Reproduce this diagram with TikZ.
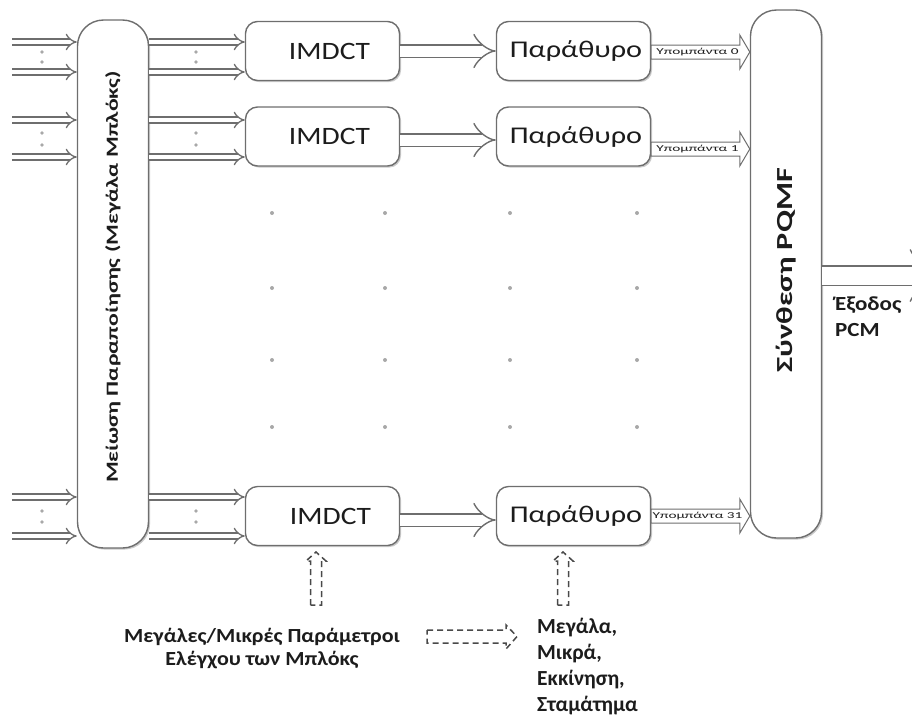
\documentclass[tikz,border=0pt]{standalone}
\usepackage{fontspec}
\setmainfont{Carlito}
\usepackage{graphicx}
\usetikzlibrary{arrows.meta,shadows,calc}
\definecolor{edge}{HTML}{6E6E6E}
\definecolor{ink}{HTML}{1C1C1C}
\definecolor{dotc}{HTML}{A8A8A8}
\newcommand{\wide}[2]{\scalebox{#1}[1]{#2}}
\begin{document}
\begin{tikzpicture}[x=1pt,y=-1pt,
  box/.style={draw=edge, line width=1.4pt, fill=white, rounded corners=12pt,
    drop shadow={shadow xshift=1.6pt, shadow yshift=-1.6pt, opacity=0.35, fill=black!60},
    inner sep=0pt, text=ink},
  bigbox/.style={box, rounded corners=26pt, minimum width=71pt, minimum height=528pt},
  stagebox/.style={box, minimum width=154pt, minimum height=59pt, font=\fontsize{25}{27}\selectfont},
  inarrow/.style={draw=edge, line width=1.3pt, double=white, double distance=4.5pt, -{Implies}},
  midarrow/.style={draw=edge, line width=1.4pt, double=white, double distance=11pt, -{Implies}},
  outarrow/.style={draw=edge, line width=1.4pt, double=white, double distance=18pt, -{Implies}},
  subarrow/.style={draw=edge, line width=1pt, fill=white, line join=miter},
  sublabel/.style={text=ink, inner sep=0pt, font=\fontsize{9}{10}\selectfont},
  ctrl/.style={draw=ink!80, line width=1.5pt, dash pattern=on 6pt off 4pt},
  sidetext/.style={text=ink, inner sep=0pt},
  gdot/.style={fill=dotc, draw=none}
]
\useasboundingbox (0,0) rectangle (912,716);

% main blocks
\node[bigbox] (alias) at (113,284) {};
\node[text=ink, rotate=90, font=\bfseries\fontsize{17}{19}\selectfont] (aliastxt) at (113,277)
  {\wide{1.4}{Μείωση Παραποίησης (Μεγάλα Μπλόκς)}};
\node[bigbox] (pqmf) at (786,274) {};
\node[text=ink, rotate=90, font=\bfseries\fontsize{23}{25}\selectfont] (pqmftxt) at (786,270)
  {\wide{1.4}{Σύνθεση PQMF}};

\node[stagebox] (im0)  at (322.5,51)    {\hspace*{14pt}\wide{1.18}{IMDCT}};
\node[stagebox] (im1)  at (322.5,136.5) {\hspace*{14pt}\wide{1.18}{IMDCT}};
\node[stagebox] (im31) at (322.5,516)   {\hspace*{16pt}\wide{1.18}{IMDCT}};
\node[stagebox, font=\fontsize{24}{26}\selectfont] (w0)  at (573.5,51)    {\hspace*{5pt}\wide{1.26}{Παράθυρο}};
\node[stagebox, font=\fontsize{24}{26}\selectfont] (w1)  at (573.5,136.5) {\hspace*{5pt}\wide{1.26}{Παράθυρο}};
\node[stagebox, font=\fontsize{24}{26}\selectfont] (w31) at (573.5,516)   {\hspace*{5pt}\wide{1.26}{Παράθυρο}};

% coefficient lines into and out of the alias reduction
\foreach \y [count=\i] in {42,72,120,157,497,536} {
  \coordinate (src\i) at (12,\y);
  \draw[inarrow] (src\i) -- (src\i -| alias.west);
  \draw[inarrow] (src\i -| alias.east) -- (src\i -| im0.west);
}
\foreach \y in {52,62,133,145,511,522} {
  \fill[gdot] (42,\y) circle (1.8pt);
  \fill[gdot] (196,\y) circle (1.8pt);
}

% IMDCT to window
\draw[midarrow] (im0) -- (w0);
\draw[midarrow] (im1.east |- 0,140) -- (w1.west |- 0,140);
\draw[midarrow] (im31.east |- 0,520) -- (w31.west |- 0,520);

% subbands into the synthesis filterbank
\foreach \win/\y/\k in {w0/52/0, w1/149/1, w31/516/31} {
  \coordinate (t\k) at (\win.east |- 0,\y);
  \coordinate (h\k) at (pqmf.west |- 0,\y);
  \draw[subarrow] ([yshift=7pt]t\k) -- ([xshift=-10pt,yshift=7pt]h\k)
    -- ([xshift=-10pt,yshift=17pt]h\k) -- (h\k) -- ([xshift=-10pt,yshift=-17pt]h\k)
    -- ([xshift=-10pt,yshift=-7pt]h\k) -- ([yshift=-7pt]t\k) -- cycle;
  \node[sublabel] (sub\k) at ($ (t\k)!0.5!([xshift=-6pt]h\k) $) {\wide{1.7}{Υπομπάντα \k}};
}

% omitted channels
\foreach \x in {272,385,510,637}
  \foreach \y in {213,288,360,427}
    \fill[gdot] (\x,\y) circle (2pt);

% PCM output
\coordinate (outend) at (944,275.5);
\begin{scope}
  \clip (0,0) rectangle (912,716);
  \draw[outarrow] (pqmf.east |- outend) -- (outend);
\end{scope}
\node[sidetext, anchor=north west, align=left, font=\bfseries\fontsize{20}{26}\selectfont] (pcm) at (835,297)
  {\wide{1.15}{Έξοδος}\\\wide{1.15}{PCM}};

% control inputs
\draw[ctrl] (310.5,605) -- (310.5,561) -- (306,561) -- (316,552) -- (326,561) -- (321.5,561) -- (321.5,605) -- cycle;
\draw[ctrl] (557.5,605) -- (557.5,561) -- (553,561) -- (563,552) -- (573,561) -- (568.5,561) -- (568.5,605) -- cycle;
\draw[ctrl] (427,630) -- (506,630) -- (506,625) -- (517,636.5) -- (506,649) -- (506,643) -- (427,643) -- cycle;

\node[sidetext, align=center, font=\bfseries\fontsize{20}{23}\selectfont] (blockctl) at (262,649)
  {\wide{1.1}{Μεγάλες/Μικρές Παράμετροι}\\\wide{1.1}{Ελέγχου των Μπλόκς}};
\node[sidetext, anchor=north west, align=left, font=\bfseries\fontsize{21.5}{26}\selectfont] (winctl) at (537,618)
  {Μεγάλα,\\Μικρά,\\Εκκίνηση,\\Σταμάτημα};
\end{tikzpicture}
\end{document}
